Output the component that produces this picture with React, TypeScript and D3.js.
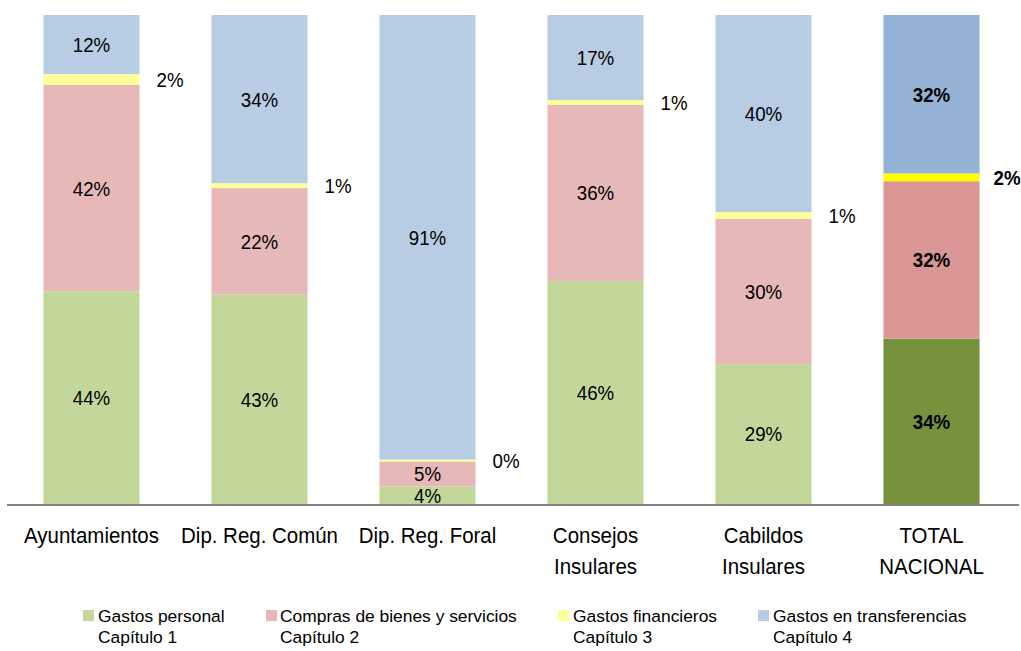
import React from "react";
import * as d3 from "d3";

const categories = ["Ayuntamientos", "Dip. Reg. Común", "Dip. Reg. Foral", "Consejos Insulares", "Cabildos Insulares", "TOTAL NACIONAL"];
const categoryLines = [["Ayuntamientos"], ["Dip. Reg. Común"], ["Dip. Reg. Foral"], ["Consejos", "Insulares"], ["Cabildos", "Insulares"], ["TOTAL", "NACIONAL"]];

const gastosPersonal = [43.5, 42.8, 3.6, 45.6, 28.6, 33.8];
const comprasBienes = [42.2, 21.8, 5.1, 36.0, 29.7, 32.2];
const gastosFinancieros = [2.2, 1.0, 0.4, 1.0, 1.4, 1.6];
const gastosTransferencias = [12.1, 34.4, 90.9, 17.4, 40.3, 32.4];

const seriesKeys = ["personal", "compras", "financieros", "transferencias"];
const legendLine1 = ["Gastos personal", "Compras de bienes y servicios", "Gastos financieros", "Gastos en transferencias"];
const legendLine2 = ["Capítulo 1", "Capítulo 2", "Capítulo 3", "Capítulo 4"];

const colors = ["#C4D79B", "#E6B8B7", "#FFFF99", "#B8CCE4"];
const totalColors = ["#76933C", "#DA9694", "#FFFF00", "#95B3D7"];

const W = 1021;
const H = 651;
const FONT = "'Liberation Sans', Arial, sans-serif";

function SqText(props: { x: number; y: number; size: number; sq: number; anchor?: string; bold?: boolean; dy?: string; children: React.ReactNode }) {
  const { x, y, size, sq, anchor = "middle", bold = false, dy = "0", children } = props;
  return (
    <text transform={`translate(${x},${y}) scale(${sq},1)`} x={0} y={0} dy={dy}
      textAnchor={anchor} fontFamily={FONT} fontSize={size} fontWeight={bold ? "bold" : "normal"} fill="#000">
      {children}
    </text>
  );
}

export default function App() {
  const rows = categories.map((c, i) => ({
    cat: c,
    personal: gastosPersonal[i],
    compras: comprasBienes[i],
    financieros: gastosFinancieros[i],
    transferencias: gastosTransferencias[i],
  }));
  const stack = d3.stack<any>().keys(seriesKeys)(rows);

  const x = d3.scaleBand<string>().domain(categories).range([7.5, 1015.5]).paddingInner(0.428).paddingOuter(0.214);
  const y = d3.scaleLinear().domain([0, 100]).range([504, 15]);
  const bw = x.bandwidth();
  const isTotal = (c: string) => c === "TOTAL NACIONAL";

  const legendSquareX = [83, 266, 558, 758];
  const legendTextX = [98, 280, 573, 773];

  return (
    <svg width={W} height={H} style={{ position: "absolute", left: 0, top: 0, background: "#fff" }}>
      {stack.map((layer, si) =>
        layer.map((d: any, i) => {
          const c = categories[i];
          const x0 = x(c)!;
          const yTop = y(d[1]);
          const yBot = y(d[0]);
          return (
            <rect key={`${si}-${i}`} x={x0} y={yTop} width={bw} height={Math.max(0, yBot - yTop)}
              fill={isTotal(c) ? totalColors[si] : colors[si]} />
          );
        })
      )}
      {stack.map((layer, si) =>
        layer.map((d: any, i) => {
          const c = categories[i];
          const x0 = x(c)!;
          const yc = (y(d[0]) + y(d[1])) / 2;
          const v = d[1] - d[0];
          const label = `${Math.round(v)}%`;
          const outside = si === 2;
          const tx = outside ? x0 + bw + (isTotal(c) ? 14 : 17) : x0 + bw / 2;
          return (
            <SqText key={`l${si}-${i}`} x={tx} y={yc} dy="0.38em" size={19.5} sq={0.96}
              anchor={outside ? "start" : "middle"} bold={isTotal(c)}>
              {label}
            </SqText>
          );
        })
      )}
      <line x1={7} x2={1019} y1={505} y2={505} stroke="#808080" strokeWidth={2} />
      {categories.map((c, i) =>
        categoryLines[i].map((ln, k) => (
          <SqText key={`c${i}-${k}`} x={x(c)! + bw / 2} y={543 + k * 31} size={22} sq={0.93}>{ln}</SqText>
        ))
      )}
      {seriesKeys.map((k, i) => (
        <g key={`lg${k}`}>
          <rect x={legendSquareX[i]} y={610} width={11} height={11} fill={colors[i]} />
          <text x={legendTextX[i]} y={622} fontFamily={FONT} fontSize={17.4} fill="#000">{legendLine1[i]}</text>
          <text x={legendTextX[i]} y={643} fontFamily={FONT} fontSize={17.4} fill="#000">{legendLine2[i]}</text>
        </g>
      ))}
    </svg>
  );
}
